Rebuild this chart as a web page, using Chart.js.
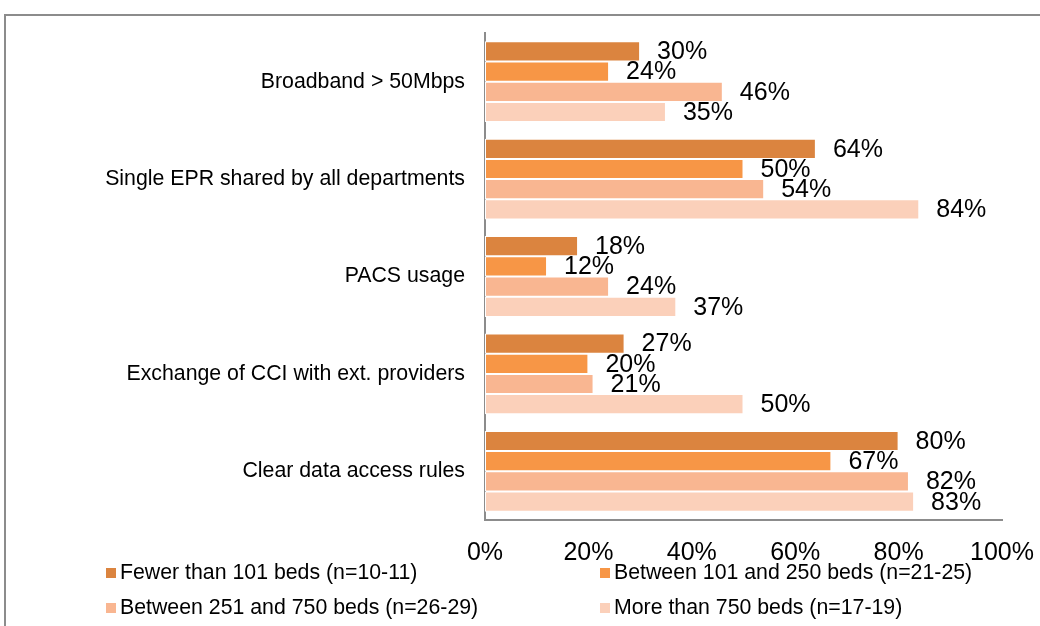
<!DOCTYPE html>
<html>
<head>
<meta charset="utf-8">
<script src="https://cdn.jsdelivr.net/npm/chart.js@4"></script>
<style>
  html, body { margin: 0; padding: 0; background: #fff; }
  body { width: 1040px; height: 626px; overflow: hidden; position: relative; font-family: "Liberation Sans", Arial, sans-serif; }
  .frame { position: absolute; left: 4px; top: 14px; width: 1100px; height: 700px; border-top: 2px solid #8c8c8c; border-left: 2px solid #8c8c8c; }
  .wrap { position: absolute; left: 0; top: 0; width: 1040px; height: 626px; }
  .legend { position: absolute; left: 0; top: 0; width: 1040px; height: 626px; pointer-events: none; }
  .legend .item { position: absolute; font-size: 21.3px; color: #000; white-space: nowrap; line-height: 20px; }
  .legend .box { display: inline-block; width: 10px; height: 10px; margin-right: 4px; vertical-align: 1px; }
</style>
</head>
<body>
<div class="frame"></div>
<div class="wrap"><canvas id="chart" width="1040" height="626"></canvas></div>
<div class="legend" id="legend"></div>
<script>
// categories, top to bottom
const categories = [
  'Broadband > 50Mbps',
  'Single EPR shared by all departments',
  'PACS usage',
  'Exchange of CCI with ext. providers',
  'Clear data access rules'
]
const seriesNames = [
  'Fewer than 101 beds (n=10-11)',
  'Between 101 and 250 beds (n=21-25)',
  'Between 251 and 750 beds (n=26-29)',
  'More than 750 beds (n=17-19)'
]
// values in percent, one array per series
const fewer101 = [30, 64, 18, 27, 80]
const between101_250 = [24, 50, 12, 20, 67]
const between251_750 = [46, 54, 24, 21, 82]
const more750 = [35, 84, 37, 50, 83]
const tickValues = [0, 20, 40, 60, 80, 100]

const colors = ['#DB843F', '#F79646', '#F9B691', '#FBD0BA']
const seriesValues = [fewer101, between101_250, between251_750, more750]

// data labels drawn a bit right of each bar end
const barLabels = {
  id: 'barLabels',
  afterDatasetsDraw(chart) {
    const ctx = chart.ctx
    ctx.save()
    ctx.font = '25px "Liberation Sans", Arial, sans-serif'
    ctx.fillStyle = '#000'
    ctx.textAlign = 'left'
    ctx.textBaseline = 'middle'
    chart.data.datasets.forEach((ds, i) => {
      const meta = chart.getDatasetMeta(i)
      meta.data.forEach((bar, j) => {
        ctx.fillText(ds.data[j] + '%', bar.x + 17, bar.y + 1)
      })
    })
    ctx.restore()
  }
}

const chart = new Chart(document.getElementById('chart'), {
  type: 'bar',
  data: {
    labels: categories,
    datasets: seriesNames.map((name, i) => ({
      label: name,
      data: seriesValues[i],
      backgroundColor: colors[i],
      borderColor: '#ffffff',
      borderWidth: 1,
      borderSkipped: false,
      barPercentage: 1,
      categoryPercentage: 0.83
    }))
  },
  options: {
    indexAxis: 'y',
    responsive: false,
    animation: false,
    layout: { padding: { top: 33, right: 38, bottom: 58, left: 0 } },
    scales: {
      x: {
        min: 0,
        max: 100,
        afterBuildTicks(scale) { scale.ticks = tickValues.map(v => ({ value: v })) },
        afterFit(scale) {
          scale.height = 48
          scale.paddingLeft = 0
          scale.paddingRight = 0
        },
        grid: { display: false, drawTicks: false },
        border: { display: true, color: '#8c8c8c', width: 2 },
        ticks: {
          padding: 18,
          color: '#000',
          maxRotation: 0,
          font: { family: '"Liberation Sans", Arial, sans-serif', size: 25 },
          callback: v => v + '%'
        }
      },
      y: {
        afterFit(scale) { scale.width = 485 },
        grid: { display: false, drawTicks: false },
        border: { display: true, color: '#8c8c8c', width: 2 },
        ticks: {
          padding: 20,
          color: '#000',
          font: { family: '"Liberation Sans", Arial, sans-serif', size: 21.3 }
        }
      }
    },
    plugins: {
      legend: { display: false },
      tooltip: { enabled: false }
    }
  },
  plugins: [barLabels]
})

// legend in two columns under the axis
const legendPos = [[106, 562], [600, 562], [106, 597], [600, 597]]
const legendEl = document.getElementById('legend')
seriesNames.forEach((name, i) => {
  const item = document.createElement('div')
  item.className = 'item'
  item.style.left = legendPos[i][0] + 'px'
  item.style.top = legendPos[i][1] + 'px'
  item.innerHTML = `<span class="box" style="background:${colors[i]}"></span>${name}`
  legendEl.appendChild(item)
})
</script>
</body>
</html>
